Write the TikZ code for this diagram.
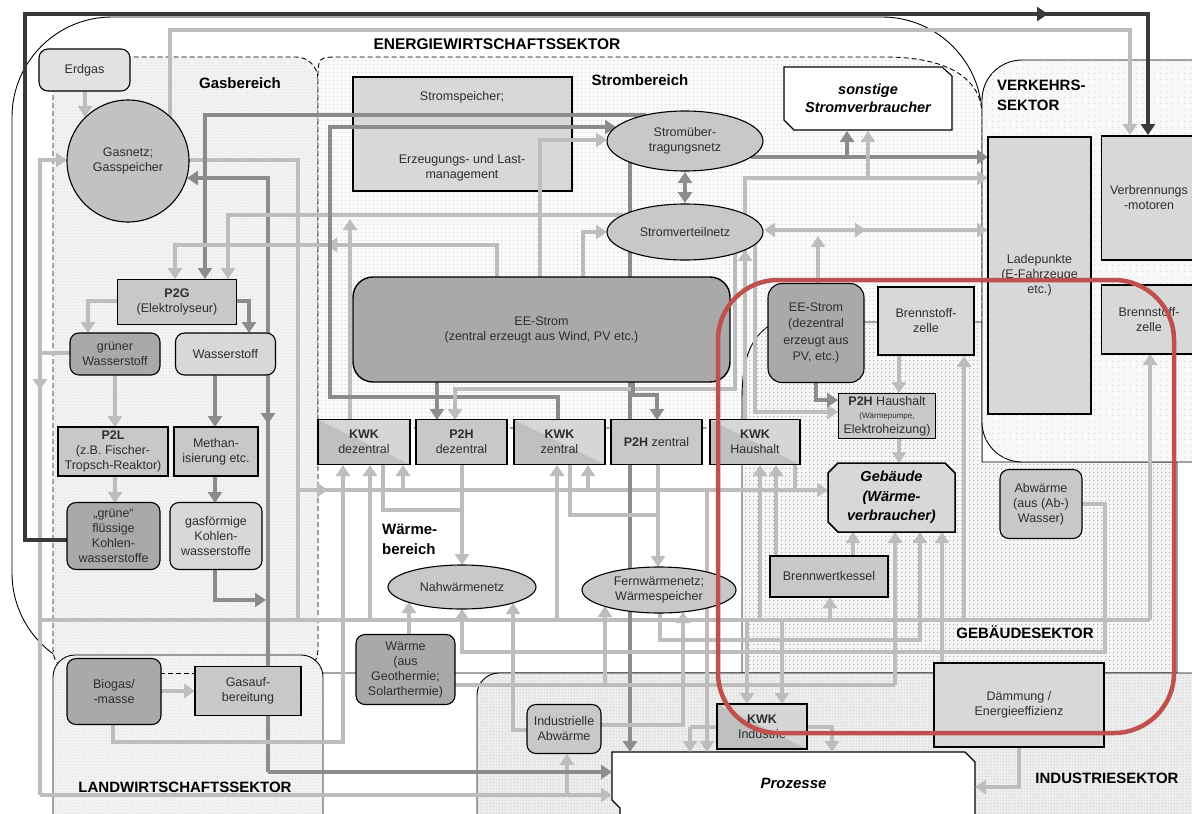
\documentclass[tikz,border=0pt]{standalone}
\usepackage{fontspec}
\setmainfont{Liberation Sans}
\usetikzlibrary{arrows.meta,shapes.geometric,patterns}

\definecolor{lgr}{HTML}{BDBDBD}
\definecolor{mgr}{HTML}{8C8C8C}
\definecolor{dgr}{HTML}{3A3A3A}
\definecolor{txt}{HTML}{2E2E2E}
\definecolor{fillA}{HTML}{D8D8D8}
\definecolor{fillB}{HTML}{C8C8C8}
\definecolor{fillC}{HTML}{A9A9A9}
\definecolor{fillE}{HTML}{E2E2E2}
\definecolor{fillG}{HTML}{C2C2C2}
\definecolor{kwkA}{HTML}{C0C0C0}
\definecolor{kwkB}{HTML}{D6D6D6}
\definecolor{frameRed}{HTML}{C0504D}

\pgfdeclarepatternformonly{finedots}{\pgfpointorigin}{\pgfqpoint{3pt}{3pt}}{\pgfqpoint{3pt}{3pt}}%
  {\pgfpathcircle{\pgfqpoint{1.5pt}{1.5pt}}{0.55pt}\pgfusepath{fill}}
\pgfdeclarepatternformonly{middots}{\pgfpointorigin}{\pgfqpoint{4pt}{4pt}}{\pgfqpoint{4pt}{4pt}}%
  {\pgfpathcircle{\pgfqpoint{2pt}{2pt}}{0.65pt}\pgfusepath{fill}}
\pgfdeclarepatternformonly{sparsedots}{\pgfpointorigin}{\pgfqpoint{6pt}{6pt}}{\pgfqpoint{6pt}{6pt}}%
  {\pgfpathcircle{\pgfqpoint{3pt}{3pt}}{0.65pt}\pgfusepath{fill}}

\tikzset{
  lineL/.style={line width=4.5pt, draw=lgr},
  lineM/.style={line width=4.5pt, draw=mgr},
  lineD/.style={line width=4.8pt, draw=dgr},
  txtbase/.style={align=center, text=txt, font=\fontsize{12.5}{15}\selectfont, inner sep=0pt},
  sqbox/.style={txtbase, rectangle, draw=black, line width=1.8pt, fill=fillB},
  rbox/.style={txtbase, rectangle, rounded corners=9pt, draw=black, line width=1.1pt},
  ellbox/.style={txtbase, ellipse, draw=black, line width=1.1pt, fill=fillB},
  kwkbox/.style={sqbox, fill=kwkA, minimum height=45pt,
    path picture={\fill[kwkB] (path picture bounding box.north west) -- (path picture bounding box.north east) -- (path picture bounding box.south east) -- cycle;}},
  seclabel/.style={font=\fontsize{15}{18}\selectfont\bfseries, text=black, inner sep=0pt, align=left},
  areaborder/.style={line width=0.9pt, draw=black},
  dashborder/.style={line width=0.9pt, draw=black, dash pattern=on 5pt off 3pt},
}

\begin{document}
\begin{tikzpicture}[x=1pt,y=-1pt,>={Triangle[length=11pt,width=14pt]}]
\useasboundingbox (0,0) rectangle (1192,814);
\fill[white] (0,0) rectangle (1192,814);

% ---------- sectors and areas ----------
\draw[areaborder, fill=white, rounded corners=100pt] (12,17) rectangle (982,673);
\draw[dashborder, fill={rgb,255:red,243;green,243;blue,243}, rounded corners=22pt,
      postaction={pattern=finedots, pattern color={rgb,255:red,190;green,190;blue,190}}]
      (53,57) rectangle (318,672);
\draw[dashborder, fill={rgb,255:red,251;green,251;blue,251},
      postaction={pattern=middots, pattern color={rgb,255:red,200;green,200;blue,200}}]
      (318,428) -- (318,80) .. controls (318,57) .. (341,57) -- (885,57)
      .. controls (950,57) and (982,80) .. (982,115) -- (982,428) -- cycle;
% building sector
\draw[areaborder, fill={rgb,255:red,246;green,246;blue,246},
      postaction={pattern=middots, pattern color={rgb,255:red,160;green,160;blue,160}}]
      (742,673) -- (742,400) .. controls (742,355) and (752,335) .. (775,322) -- (982,322)
      -- (982,462) -- (1177,462) -- (1177,673) -- cycle;
% transport sector
\draw[areaborder, fill={rgb,255:red,248;green,248;blue,248}, rounded corners=40pt,
      postaction={pattern=sparsedots, pattern color={rgb,255:red,205;green,205;blue,205}}]
      (982,60) rectangle (1250,462);
% agriculture sector
\draw[areaborder, fill={rgb,255:red,243;green,243;blue,243}, rounded corners=22pt,
      postaction={pattern=finedots, pattern color={rgb,255:red,185;green,185;blue,185}}]
      (53,655) rectangle (323,860);
% industry sector
\draw[areaborder, fill={rgb,255:red,238;green,238;blue,238}, rounded corners=22pt,
      postaction={pattern=finedots, pattern color={rgb,255:red,150;green,150;blue,150}}]
      (477,673) rectangle (1250,860);
% process block
\draw[line width=1.1pt, fill=white] (612,752) -- (965,752) -- (975,762) -- (975,830)
      -- (620,830) -- (620,808) -- (612,800) -- cycle;

% storage / load management block (lines run across it)
\node[sqbox, fill=fillA, minimum width=219pt, minimum height=114pt] (ssp) at (462.5,134) {};

% ---------- connectors ----------
% gas side
\draw[lineL,->] (170,117) -- (170,30) -- (1130,30) -- (1130,135);
\draw[lineL,->] (85,91) -- (85,117);
\draw[lineL,->] (70,353) -- (40,353) -- (40,160) -- (67,160);
\draw[lineL] (40,353) -- (40,795);
\draw[lineL,->] (40,360) -- (40,390);
\draw[lineL,->] (40,795) -- (612,795);
\draw[lineL,->] (567,795) -- (567,754);
\draw[lineL] (40,620) -- (1150,620);
\draw[lineL,->] (1150,620) -- (1150,354);
\draw[lineL] (189,160) -- (298,160) -- (298,620);
\draw[lineL,->] (298,490) -- (828,490);
\draw[lineL,->] (298,490) -- (328,490);
\draw[lineL,->] (118,301) -- (88,301) -- (88,333);
\draw[lineM,->] (236,301) -- (249,301) -- (249,333);
\draw[lineL,->] (115,375) -- (115,427);
\draw[lineM,->] (215,375) -- (215,427);
\draw[lineL,->] (115,476) -- (115,503);
\draw[lineM,->] (215,476) -- (215,503);
\draw[lineM,->] (268,340) -- (268,178) -- (187,178);
\draw[lineM] (268,375) -- (268,772);
\draw[lineM,->] (268,380) -- (268,424);
\draw[lineM,->] (268,772) -- (612,772);
\draw[lineM,->] (215,570) -- (215,600) -- (266,600);
\draw[lineL,->] (160,691) -- (195,691);
\draw[lineL,->] (113,724) -- (113,742) -- (343,742) -- (343,465);

% electricity to P2G
\draw[lineM,->] (646,115) -- (205,115) -- (205,279);
\draw[lineL,->] (497,277) -- (497,245) -- (175,245) -- (175,279);
\draw[lineL,->] (362,245) -- (326,245);
\draw[lineL,->] (623,215) -- (228,215) -- (228,279);
\draw[lineL,->] (350,420) -- (350,219);
\draw[lineL,->] (583,277) -- (583,232) -- (607,232);

% transmission / distribution grid
\draw[lineM,->] (558,420) -- (558,397) -- (330,397) -- (330,127) -- (616,127);
\draw[lineL,->] (540,277) -- (540,140) -- (607,140);
\draw[lineM,<->] (685,172) -- (685,203);
\draw[lineM,->] (630,162) -- (630,752);
\draw[lineM,->] (751,157) -- (988,157);
\draw[lineM,->] (847,157) -- (847,131);
\draw[lineL,->] (745,420) -- (745,178) -- (988,178);
\draw[lineL,->] (745,300) -- (745,250);
\draw[lineL,->] (868,178) -- (868,131);
\draw[lineL,<->] (764,230) -- (988,230);
\draw[lineL,->] (820,230) -- (866,230);
\draw[lineL,->] (818,283) -- (818,236);

% supply of the combined heat and power / power-to-heat row
\draw[lineM,->] (437,382) -- (437,420);
\draw[lineL,->] (735,253) -- (735,389) -- (455,389) -- (455,420);
\draw[lineM,->] (633,382) -- (633,395) -- (657,395) -- (657,420);
\draw[lineL,->] (755,232) -- (755,412) -- (838,412);
\draw[lineM,->] (816,382) -- (816,400) -- (838,400);
\draw[lineL,->] (899,355) -- (899,393);
\draw[lineL,->] (899,438) -- (899,463);
\draw[lineL,->] (964,620) -- (964,356);
\draw[lineL,->] (370,620) -- (370,465);
\draw[lineL,->] (403,490) -- (403,465);
\draw[lineL] (383,464) -- (383,510) -- (462,510);
\draw[lineL,->] (462,464) -- (462,565);
\draw[lineL,->] (557,620) -- (557,465);
\draw[lineL,->] (588,490) -- (588,465);
\draw[lineL] (570,464) -- (570,515) -- (658,515);
\draw[lineL,->] (658,464) -- (658,567);
\draw[lineL,->] (760,620) -- (760,465);
\draw[lineL,->] (776,556) -- (776,465);
\draw[lineL] (795,464) -- (795,490);

% heat sources and networks
\draw[lineL,->] (409,635) -- (409,602);
\draw[lineL] (455,685) -- (895,685);
\draw[lineL,->] (895,685) -- (895,532);
\draw[lineL,->] (605,685) -- (605,606);
\draw[lineL,->] (527,730) -- (513,730) -- (513,603);
\draw[lineL,->] (601,725) -- (683,725) -- (683,612);
\draw[lineL,->] (1082,504) -- (1105,504) -- (1105,652) -- (462,652) -- (462,609);
\draw[lineL,->] (660,613) -- (660,640) -- (920,640) -- (920,532);
\draw[lineL,->] (830,620) -- (830,597);
\draw[lineL,->] (853,556) -- (853,532);
\draw[lineL,->] (942,663) -- (942,532);
\draw[lineL,->] (1019,747) -- (1019,787) -- (975,787);

% industrial CHP and processes
\draw[lineL,->] (747,620) -- (747,704);
\draw[lineL,->] (782,620) -- (782,704);
\draw[lineL] (717,727) -- (690,727);
\draw[lineL,->] (690,727) -- (690,752);
\draw[lineL,->] (707,490) -- (707,752);
\draw[lineL,->] (807,727) -- (832,727) -- (832,752);

% liquid fuels to combustion engines
\draw[lineD,->] (67,540) -- (25,540) -- (25,14) -- (1048,14);
\draw[lineD,->] (1040,14) -- (1148,14) -- (1148,135);

% border between biogas and gas upgrading
\draw[dashborder] (160,673) -- (195,673);

% ---------- nodes ----------
\node[txtbase] (sspT) at (462,97) {Stromspeicher;};
\node[txtbase] (sspB) at (462,168) {Erzeugungs- und Last-\\management};

\node[rbox, fill=fillE, minimum width=91pt, minimum height=42pt] (erdgas) at (84.5,70) {Erdgas};
\node[txtbase, circle, draw=black, line width=1.1pt, fill=fillG, minimum size=122pt] (gasnetz) at (128,161) {Gasnetz;\\Gasspeicher};
\node[sqbox, minimum width=119pt, minimum height=45pt] (p2g) at (177,302) {\textbf{P2G}\\(Elektrolyseur)};
\node[rbox, fill=fillC, minimum width=90pt, minimum height=42pt] (gw) at (115,354) {grüner\\Wasserstoff};
\node[rbox, fill=fillA, minimum width=100pt, minimum height=42pt] (ws) at (225.5,354) {Wasserstoff};
\node[sqbox, minimum width=110pt, minimum height=49pt] (p2l) at (113,451.5) {\textbf{P2L}\\(z.B. Fischer-\\Tropsch-Reaktor)};
\node[sqbox, minimum width=84pt, minimum height=49pt] (meth) at (216,451.5) {Methan-\\isierung etc.};
\node[rbox, fill=fillC, minimum width=93pt, minimum height=67pt] (gfk) at (113.5,536) {„grüne“\\flüssige\\Kohlen-\\wasserstoffe};
\node[rbox, fill=fillA, minimum width=92pt, minimum height=67pt] (gask) at (216,536) {gasförmige\\Kohlen-\\wasserstoffe};

\node[rbox, rounded corners=20pt, fill=fillC, line width=1.4pt, minimum width=377pt, minimum height=105pt] (eez) at (541.5,329.5) {EE-Strom\\(zentral erzeugt aus Wind, PV etc.)};
\node[ellbox, minimum width=156pt, minimum height=60pt] (ueb) at (685,141) {Stromüber-\\tragungsnetz};
\node[ellbox, minimum width=156pt, minimum height=56pt] (vert) at (685,232) {Stromverteilnetz};
\draw[line width=1.1pt, fill=white] (784,67) -- (942,67) -- (952,76) -- (952,130) -- (794,130) -- (784,120) -- cycle;
\node[txtbase, minimum width=168pt, minimum height=63pt, text=black, font=\fontsize{14.5}{18}\selectfont\bfseries\itshape] (sonst) at (868,98.5) {sonstige\\Stromverbraucher};

\node[kwkbox, minimum width=92pt] (kwkd) at (364,442) {\textbf{KWK}\\dezentral};
\node[sqbox, minimum width=91pt, minimum height=45pt] (p2hd) at (461.5,442) {\textbf{P2H}\\dezentral};
\node[kwkbox, minimum width=91pt] (kwkz) at (559.5,442) {\textbf{KWK}\\zentral};
\node[sqbox, minimum width=91pt, minimum height=45pt] (p2hz) at (656.5,442) {\textbf{P2H} zentral};
\node[kwkbox, minimum width=90pt] (kwkh) at (755,442) {\textbf{KWK}\\Haushalt};

\node[ellbox, minimum width=148pt, minimum height=44pt] (nah) at (462,587) {Nahwärmenetz};
\node[ellbox, minimum width=154pt, minimum height=46pt] (fern) at (659,590) {Fernwärmenetz;\\Wärmespeicher};

\node[sqbox, fill=fillA, line width=1.6pt, minimum width=103pt, minimum height=277pt] (lade) at (1039.5,275.5) {Ladepunkte\\(E-Fahrzeuge\\etc.)};
\node[sqbox, fill=fillA, minimum width=95pt, minimum height=124pt] (verbr) at (1149,198) {Verbrennungs\\-motoren};
\node[sqbox, fill=fillA, minimum width=95pt, minimum height=69pt] (bzv) at (1149,319.5) {Brennstoff-\\zelle};

\node[rbox, rounded corners=14pt, fill=fillC, minimum width=96pt, minimum height=99pt, font=\fontsize{12.5}{16.5}\selectfont] (eed) at (816,333) {EE-Strom\\(dezentral\\erzeugt aus\\PV, etc.)};
\node[sqbox, fill=fillA, minimum width=96pt, minimum height=68pt] (bzg) at (926,321) {Brennstoff-\\zelle};
\node[sqbox, minimum width=97pt, minimum height=45pt] (p2hh) at (887,416) {\textbf{P2H} Haushalt\\[-2pt]\fontsize{8}{9.5}\selectfont(Wärmepumpe,\\Elektroheizung)};
\draw[line width=1.5pt, fill=fillA] (838,463) -- (945,463) -- (955,473) -- (955,532) -- (838,532) -- (828,522) -- (828,473) -- cycle;
\node[txtbase, minimum width=127pt, minimum height=69pt, text=black, font=\fontsize{14.5}{19.5}\selectfont\bfseries\itshape] (geb) at (891.5,497.5) {Gebäude\\(Wärme-\\verbraucher)};
\node[rbox, fill=fillB, minimum width=82pt, minimum height=69pt] (abw) at (1041,504) {Abwärme\\(aus (Ab-)\\Wasser)};
\node[sqbox, minimum width=118pt, minimum height=41pt] (bwk) at (829,576.5) {Brennwertkessel};
\node[sqbox, fill=fillA, minimum width=170pt, minimum height=84pt] (daemm) at (1019,705) {Dämmung /\\Energieeffizienz};

\node[rbox, fill=fillC, minimum width=99pt, minimum height=70pt] (waerme) at (405.5,669.5) {Wärme\\(aus\\Geothermie;\\Solarthermie)};
\node[rbox, fill=fillC, minimum width=94pt, minimum height=66pt] (bio) at (114,691.5) {Biogas/\\-masse};
\node[sqbox, line width=1.5pt, minimum width=106pt, minimum height=49pt] (gasauf) at (248,691) {Gasauf-\\bereitung};
\node[rbox, fill=fillB, minimum width=74pt, minimum height=49pt] (indab) at (564,729) {Industrielle\\Abwärme};
\node[kwkbox, minimum width=90pt] (kwki) at (762,726.5) {\textbf{KWK}\\Industrie};
\node[txtbase, minimum width=363pt, minimum height=62pt, text=black, font=\fontsize{15}{18}\selectfont\bfseries\itshape] (proz) at (793.5,783) {Prozesse};

% ---------- area labels ----------
\node[seclabel, font=\fontsize{15.5}{18}\selectfont\bfseries] (lblEW) at (497,44) {ENERGIEWIRTSCHAFTSSEKTOR};
\node[seclabel] (lblGas) at (240,83) {Gasbereich};
\node[seclabel] (lblStrom) at (640,80) {Strombereich};
\node[seclabel, anchor=north west, font=\fontsize{15}{20}\selectfont\bfseries] (lblVerk) at (997,80) {VERKEHRS-\\SEKTOR};
\node[seclabel, anchor=west, font=\fontsize{15}{20}\selectfont\bfseries] (lblW) at (382,539) {Wärme-\\bereich};
\node[seclabel] (lblGeb) at (1025,632) {GEBÄUDESEKTOR};
\node[seclabel] (lblLand) at (185,787) {LANDWIRTSCHAFTSSEKTOR};
\node[seclabel] (lblInd) at (1107,778) {INDUSTRIESEKTOR};

% ---------- highlighted building-heat cluster ----------
\draw[line width=4.5pt, draw=frameRed, rounded corners=60pt] (718,280) rectangle (1174,733);
\end{tikzpicture}
\end{document}
